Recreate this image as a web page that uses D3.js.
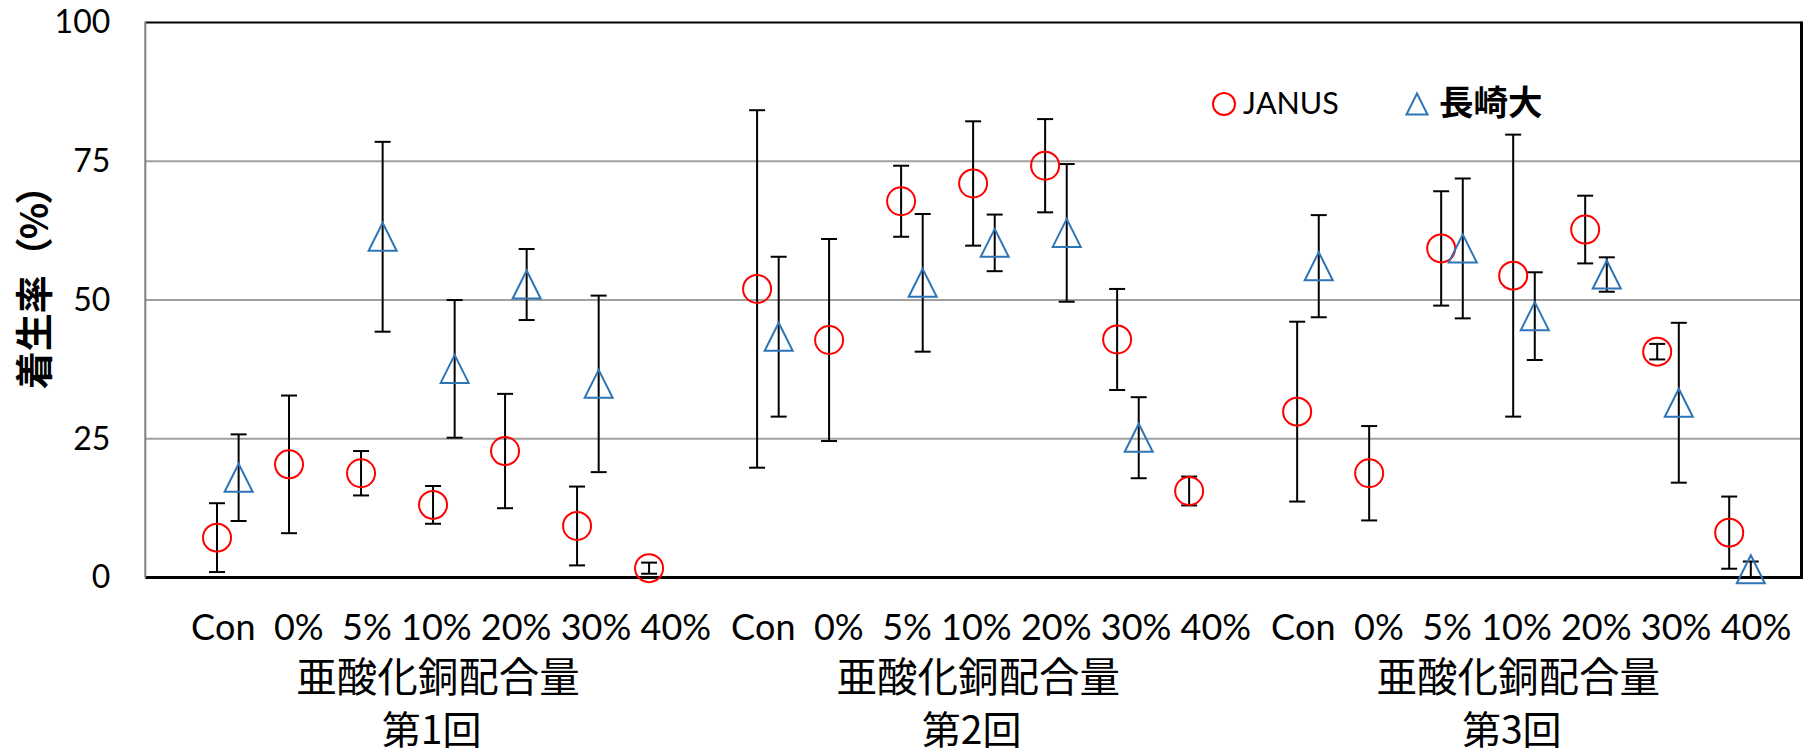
<!DOCTYPE html>
<html>
<head>
<meta charset="utf-8">
<script src="https://cdn.jsdelivr.net/npm/d3@7"></script>
<style>
  body { margin: 0; background: #fff; }
  svg { display: block; }
  text { white-space: pre; text-spacing-trim: space-all; font-kerning: none; }
</style>
</head>
<body>
<svg id="chart" width="1820" height="752"></svg>
<script>
// Settlement rate (%) by cuprous oxide content, three trial rounds
const rounds = ["第1回", "第2回", "第3回"];
const categories = ["Con", "0%", "5%", "10%", "20%", "30%", "40%"];
const axisCaption = "亜酸化銅配合量";
const yTicks = [0, 25, 50, 75, 100];
const seriesNames = ["JANUS", "長崎大"];

// JANUS: mean and error per round (Con … 40%)
const janusMean = [
  [7.2, 20.4, 18.8, 13.1, 22.8, 9.3, 1.7],
  [52.0, 42.8, 67.8, 71.0, 74.2, 42.9, 15.6],
  [29.9, 18.8, 59.3, 54.4, 62.7, 40.7, 8.1]
];
const janusErr = [
  [6.2, 12.4, 4.0, 3.4, 10.3, 7.1, 1.0],
  [32.2, 18.2, 6.4, 11.2, 8.4, 9.1, 2.6],
  [16.2, 8.5, 10.3, 25.4, 6.1, 1.4, 6.5]
];

// 長崎大: mean and error per round (null = not tested)
const nagasakiMean = [
  [18.0, null, 61.4, 37.6, 52.8, 34.9, null],
  [43.4, null, 53.1, 60.3, 62.1, 25.2, null],
  [56.1, null, 59.3, 47.1, 54.6, 31.5, 1.5]
];
const nagasakiErr = [
  [7.8, null, 17.1, 12.4, 6.4, 15.9, null],
  [14.4, null, 12.4, 5.1, 12.4, 7.3, null],
  [9.2, null, 12.6, 7.9, 3.1, 14.4, 1.4]
];

const W = 1820, H = 752;
const margin = { top: 22.5, right: 18.5, bottom: 174.4, left: 145.3 };
const latin = "Lato, 'Noto Sans', sans-serif";
const cjk = "'Noto Sans CJK JP', 'Noto Sans', sans-serif";

const svg = d3.select("#chart");

// Slot positions: 7 categories per round, half a slot of space between rounds
const groupStride = categories.length + 0.5;
const slot = (g, i) => g * groupStride + i;
const pairOffset = 0.15;

const x = d3.scaleLinear().domain([-1.146, 21.854]).range([margin.left, W - margin.right]);
const y = d3.scaleLinear().domain([0, 100]).range([H - margin.bottom, margin.top]);

function flatten(means, errs, off) {
  const out = [];
  means.forEach((row, g) => row.forEach((v, i) => {
    if (v != null) out.push({ g, i, v, e: errs[g][i], s: slot(g, i) + off });
  }));
  return out;
}
const janus = flatten(janusMean, janusErr, -pairOffset);
const nagasaki = flatten(nagasakiMean, nagasakiErr, pairOffset);

// Horizontal grid
svg.append("g").selectAll("line")
  .data(yTicks.filter(t => t > 0 && t < 100))
  .join("line")
  .attr("x1", margin.left).attr("x2", W - margin.right)
  .attr("y1", d => y(d)).attr("y2", d => y(d))
  .attr("stroke", "#a0a0a0").attr("stroke-width", 2);

// Frame: top and right black, bottom axis heavy black, left axis gray
svg.append("line").attr("x1", margin.left).attr("x2", W - margin.right)
  .attr("y1", y(100)).attr("y2", y(100)).attr("stroke", "#000").attr("stroke-width", 2);
svg.append("line").attr("x1", W - margin.right).attr("x2", W - margin.right)
  .attr("y1", y(100) - 1).attr("y2", y(0) + 1.5).attr("stroke", "#000").attr("stroke-width", 3);
svg.append("line").attr("x1", margin.left).attr("x2", W - margin.right + 1.5)
  .attr("y1", y(0)).attr("y2", y(0)).attr("stroke", "#000").attr("stroke-width", 3);
svg.append("line").attr("x1", margin.left).attr("x2", margin.left)
  .attr("y1", y(100) - 1).attr("y2", y(0)).attr("stroke", "#7f7f7f").attr("stroke-width", 2);

// Y axis labels
const yAxis = svg.append("g")
  .attr("transform", `translate(${margin.left},0)`)
  .call(d3.axisLeft(y).tickValues(yTicks).tickSize(0).tickPadding(35));
yAxis.select(".domain").remove();
yAxis.selectAll("text")
  .attr("font-family", latin).attr("font-size", 32).attr("fill", "#000");

// Y axis title, drawn glyph by glyph so the full-width brackets keep their em box
const titleChars = Array.from("着生率（%）");
const titleSize = 38;
const titleAdv = titleChars.map(c => (c === "%" ? 0.85 : 1) * titleSize);
const titleTotal = d3.sum(titleAdv);
const titleStart = 278 + titleTotal / 2;   // baseline-start position (bottom end of the rotated title)
const tg = svg.append("g");
let acc = 0;
titleChars.forEach((c, k) => {
  const cy = titleStart - acc - titleAdv[k] / 2;
  acc += titleAdv[k];
  tg.append("text")
    .attr("transform", `translate(31.6,${cy}) rotate(-90)`)
    .attr("text-anchor", "middle").attr("dominant-baseline", "central")
    .attr("font-family", cjk).attr("font-weight", 700).attr("font-size", titleSize)
    .text(c);
});

// Error bars
const capHalf = 8;
function drawErrors(data) {
  const g = svg.append("g").attr("stroke", "#000").attr("stroke-width", 2);
  g.selectAll("line.stem").data(data).join("line").attr("class", "stem")
    .attr("x1", d => x(d.s)).attr("x2", d => x(d.s))
    .attr("y1", d => y(d.v + d.e)).attr("y2", d => y(d.v - d.e));
  g.selectAll("line.top").data(data).join("line").attr("class", "top")
    .attr("x1", d => x(d.s) - capHalf).attr("x2", d => x(d.s) + capHalf)
    .attr("y1", d => y(d.v + d.e)).attr("y2", d => y(d.v + d.e));
  g.selectAll("line.bot").data(data).join("line").attr("class", "bot")
    .attr("x1", d => x(d.s) - capHalf).attr("x2", d => x(d.s) + capHalf)
    .attr("y1", d => y(d.v - d.e)).attr("y2", d => y(d.v - d.e));
}
drawErrors(janus);
drawErrors(nagasaki);

// Markers
const red = "#ff0000", blue = "#2e75b6";
const triPath = (w, h) => `M0,${-h / 2}L${w / 2},${h / 2}L${-w / 2},${h / 2}Z`;

svg.append("g").selectAll("circle").data(janus).join("circle")
  .attr("cx", d => x(d.s)).attr("cy", d => y(d.v)).attr("r", 14)
  .attr("fill", "none").attr("stroke", red).attr("stroke-width", 2);

svg.append("g").selectAll("path").data(nagasaki).join("path")
  .attr("transform", d => `translate(${x(d.s)},${y(d.v)})`)
  .attr("d", triPath(28, 28))
  .attr("fill", "none").attr("stroke", blue).attr("stroke-width", 2);

// Legend
const lg = svg.append("g");
lg.append("circle").attr("cx", 1224).attr("cy", 104).attr("r", 11)
  .attr("fill", "none").attr("stroke", red).attr("stroke-width", 2);
lg.append("text").attr("x", 1243).attr("y", 114)
  .attr("font-family", latin).attr("font-size", 30.5).text(seriesNames[0]);
lg.append("path").attr("transform", "translate(1417,104)").attr("d", triPath(21, 21))
  .attr("fill", "none").attr("stroke", blue).attr("stroke-width", 2);
lg.append("text").attr("x", 1439).attr("y", 115)
  .attr("font-family", cjk).attr("font-weight", 700).attr("font-size", 34.5).text(seriesNames[1]);

// Category captions under each round
const labelRow = categories.map((c, i) => (i < 2 ? c + "  " : c + " ")).join("").trim();
const captions = svg.append("g").selectAll("g").data(rounds).join("g");
captions.append("text")
  .attr("x", (d, g) => x(slot(g, 3) + 0.1)).attr("y", 640)
  .attr("text-anchor", "middle").attr("font-family", latin).attr("font-size", 36)
  .text(labelRow);
captions.append("text")
  .attr("x", (d, g) => x(slot(g, 3) - 0.08)).attr("y", 692)
  .attr("text-anchor", "middle").attr("font-family", cjk).attr("font-size", 40.5)
  .text(axisCaption);
captions.append("text")
  .attr("x", (d, g) => x(slot(g, 3) - 0.17)).attr("y", 744)
  .attr("text-anchor", "middle").attr("font-family", cjk).attr("font-size", 39)
  .text(d => d);
</script>
</body>
</html>
